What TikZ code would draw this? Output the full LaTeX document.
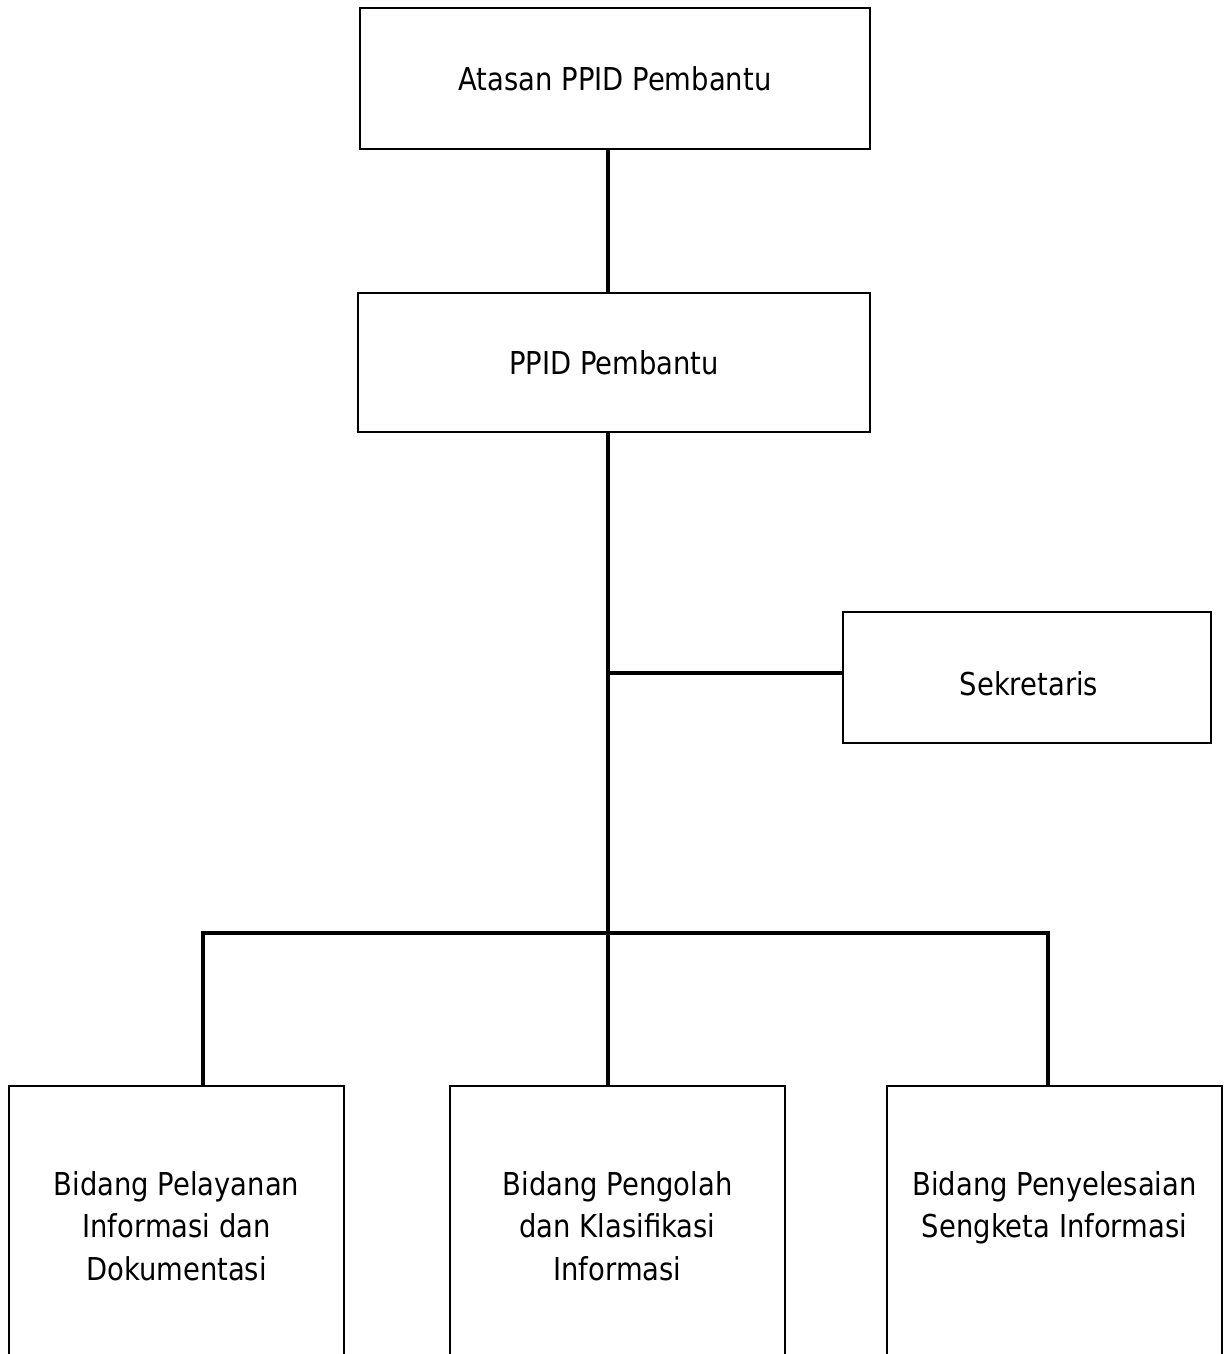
\documentclass[tikz,border=0pt]{standalone}
\usepackage{fontspec}
\setmainfont{DejaVu Sans}[FakeStretch=0.87]
\begin{document}
\begin{tikzpicture}[x=1pt,y=-1pt,
  box/.style={draw=black, line width=1.5pt, rectangle, inner sep=0pt, align=center,
    font=\fontsize{31.5}{42.5}\selectfont},
  txt/.style={inner sep=0pt, align=center, font=\fontsize{31.5}{42.5}\selectfont},
  conn/.style={line width=4.5pt, draw=black}]
\clip (0,0) rectangle (1223,1354);
\fill[white] (0,0) rectangle (1223,1354);
% boxes
\node[box, minimum width=510pt, minimum height=141pt] (atasan) at (615,78.5) {Atasan PPID Pembantu};
\node[box, minimum width=512pt, minimum height=139pt] (ppid) at (614,362.5) {PPID Pembantu};
\node[box, minimum width=368pt, minimum height=131pt] (sek) at (1027,677.5) {};
\node[txt] (sekt) at (1029,684) {Sekretaris};
\node[box, minimum width=335pt, minimum height=300pt, anchor=north] (b1) at (176.5,1085) {};
\node[box, minimum width=335pt, minimum height=300pt, anchor=north] (b2) at (617.5,1085) {};
\node[box, minimum width=335pt, minimum height=300pt, anchor=north] (b3) at (1054.5,1085) {};
\node[txt, anchor=north] (t1) at ([yshift=-86pt]b1.north) {Bidang Pelayanan\\Informasi dan\\Dokumentasi};
\node[txt, anchor=north] (t2) at ([yshift=-86pt]b2.north) {Bidang Pengolah\\dan Klasifikasi\\Informasi};
\node[txt, anchor=north] (t3) at ([yshift=-86pt]b3.north) {Bidang Penyelesaian\\Sengketa Informasi};
% junctions
\coordinate (j1) at (608,673);
\coordinate (j2) at (608,933);
\coordinate (bl) at (203,933);
\coordinate (br) at (1048,933);
% connectors
\draw[conn] (atasan.south -| j1) -- (ppid.north -| j1);
\draw[conn] (ppid.south -| j2) -- (j2);
\draw[conn] (j1) -- (j1 -| sek.west);
\draw[conn] (bl |- b1.north) -- (bl) -- (br) -- (br |- b3.north);
\draw[conn] (j2) -- (j2 |- b2.north);
\end{tikzpicture}
\end{document}
